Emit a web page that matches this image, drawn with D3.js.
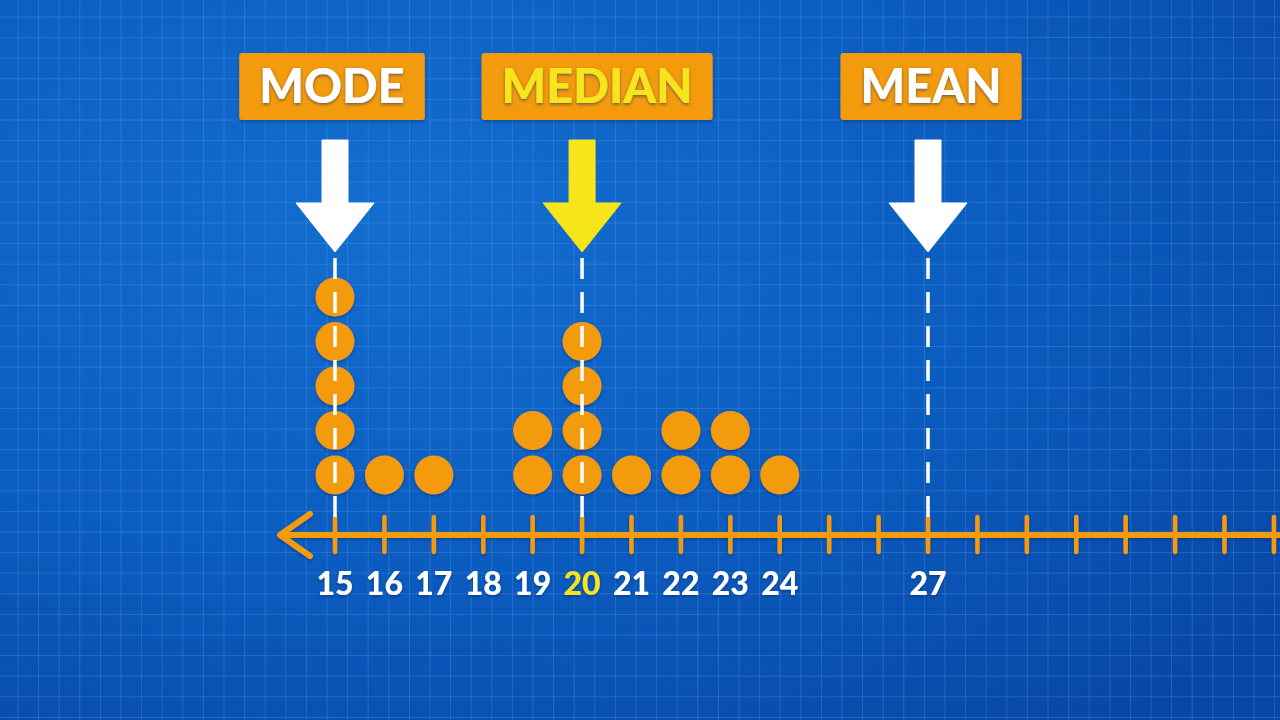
<!DOCTYPE html>
<html>
<head>
<meta charset="utf-8">
<script src="https://cdn.jsdelivr.net/npm/d3@7/dist/d3.min.js"></script>
<style>
  html, body { margin: 0; padding: 0; background: #0a5ac0; }
  svg { display: block; }
</style>
</head>
<body>
<script>
// ---- data ----
const dataValues = [15,15,15,15,15,16,17,19,19,20,20,20,20,21,22,22,23,23,24];
const markerLabels = ["MODE", "MEDIAN", "MEAN"];
const markerValues = [15, 20, 27];
const tickValues = d3.range(15, 35);
const tickLabels = [15,16,17,18,19,20,21,22,23,24,27];

const W = 1280, H = 720;
const svg = d3.select("body").append("svg").attr("width", W).attr("height", H);
const defs = svg.append("defs");

// background gradient
const rg = defs.append("radialGradient").attr("id", "bg").attr("cx", "30%").attr("cy", "30%").attr("r", "90%");
rg.append("stop").attr("offset", "0%").attr("stop-color", "#136ed0");
rg.append("stop").attr("offset", "55%").attr("stop-color", "#0b5cbf");
rg.append("stop").attr("offset", "100%").attr("stop-color", "#0847a6");
svg.append("rect").attr("width", W).attr("height", H).attr("fill", "url(#bg)");

// grid
const grid = svg.append("g").attr("stroke", "#6aa6ec").attr("stroke-opacity", 0.28).attr("stroke-width", 1);
const gs = 20.6;
for (let x = 18; x < W; x += gs) grid.append("line").attr("x1", x).attr("x2", x).attr("y1", 0).attr("y2", H);
for (let y = 17; y < H; y += gs) grid.append("line").attr("y1", y).attr("y2", y).attr("x1", 0).attr("x2", W);

// shadow filters
const f = defs.append("filter").attr("id", "sh").attr("x", "-20%").attr("y", "-20%").attr("width", "140%").attr("height", "140%");
f.append("feDropShadow").attr("dx", 0).attr("dy", 1.5).attr("stdDeviation", 1.5).attr("flood-color", "#002a66").attr("flood-opacity", 0.55);

// scales
const x = d3.scaleLinear().domain([15, 27]).range([335, 928]);
const axisY = 535;
const r = 19.5;
const stackStep = 44.5;

const ORANGE = "#f39a0f";
const YELLOW = "#f7e51b";

// ---- axis ----
const axis = svg.append("g").attr("filter", "url(#sh)");
axis.append("line").attr("x1", 282).attr("x2", W + 5).attr("y1", axisY).attr("y2", axisY)
  .attr("stroke", ORANGE).attr("stroke-width", 6);
axis.append("path").attr("d", `M${x(15) - 25},${axisY - 21} L${x(15) - 55},${axisY} L${x(15) - 25},${axisY + 21}`)
  .attr("fill", "none").attr("stroke", ORANGE).attr("stroke-width", 6).attr("stroke-linecap", "round").attr("stroke-linejoin", "round");
axis.selectAll("line.tick").data(tickValues).join("line").attr("class", "tick")
  .attr("x1", d => x(d)).attr("x2", d => x(d)).attr("y1", axisY - 18).attr("y2", axisY + 17)
  .attr("stroke", ORANGE).attr("stroke-width", 4.5).attr("stroke-linecap", "round");

// tick labels
svg.append("g").attr("filter", "url(#sh)").selectAll("text").data(tickLabels).join("text")
  .attr("x", d => x(d)).attr("y", 595)
  .attr("text-anchor", "middle")
  .attr("font-family", "Lato, 'Open Sans', sans-serif").attr("font-weight", 900).attr("font-size", 32)
  .attr("fill", d => d === markerValues[1] ? YELLOW : "#ffffff")
  .text(d => d);

// ---- dots ----
const counts = d3.rollup(dataValues, v => v.length, d => d);
const dots = [];
for (const [v, c] of counts) for (let i = 0; i < c; i++) dots.push({ v, i });
svg.append("g").attr("filter", "url(#sh)").selectAll("circle").data(dots).join("circle")
  .attr("cx", d => x(d.v)).attr("cy", d => 475 - d.i * stackStep).attr("r", r)
  .attr("fill", ORANGE);

// ---- markers ----
const markerColors = ["#ffffff", YELLOW, "#ffffff"];
const boxOffsets = [-3, 15, 3];
markerValues.forEach((v, k) => {
  const cx = x(v);
  const col = markerColors[k];
  // dashed line
  svg.append("line").attr("x1", cx).attr("x2", cx).attr("y1", 258).attr("y2", axisY - 16)
    .attr("stroke", "#ffffff").attr("stroke-width", 3.5).attr("stroke-dasharray", "21,13");
  // arrow
  const sw = 13, hw = 39, top = 140, neck = 203, tip = 252;
  svg.append("path")
    .attr("d", `M${cx - sw},${top} L${cx + sw},${top} L${cx + sw},${neck} L${cx + hw},${neck} L${cx},${tip} L${cx - hw},${neck} L${cx - sw},${neck} Z`)
    .attr("fill", col).attr("stroke", col).attr("stroke-width", 1).attr("stroke-linejoin", "round");
  // label box
  const g = svg.append("g");
  const rect = g.append("rect").attr("fill", ORANGE).attr("rx", 3).attr("filter", "url(#sh)");
  const t = g.append("text").attr("x", cx + boxOffsets[k]).attr("y", 103)
    .attr("text-anchor", "middle")
    .attr("font-family", "Lato, 'Open Sans', sans-serif").attr("font-weight", 900).attr("font-size", 47)
    .attr("fill", col).attr("filter", "url(#sh)")
    .text(markerLabels[k]);
  const bb = t.node().getBBox();
  const padX = 20;
  rect.attr("x", bb.x - padX).attr("width", bb.width + 2 * padX).attr("y", 53).attr("height", 67);
});
</script>
</body>
</html>
